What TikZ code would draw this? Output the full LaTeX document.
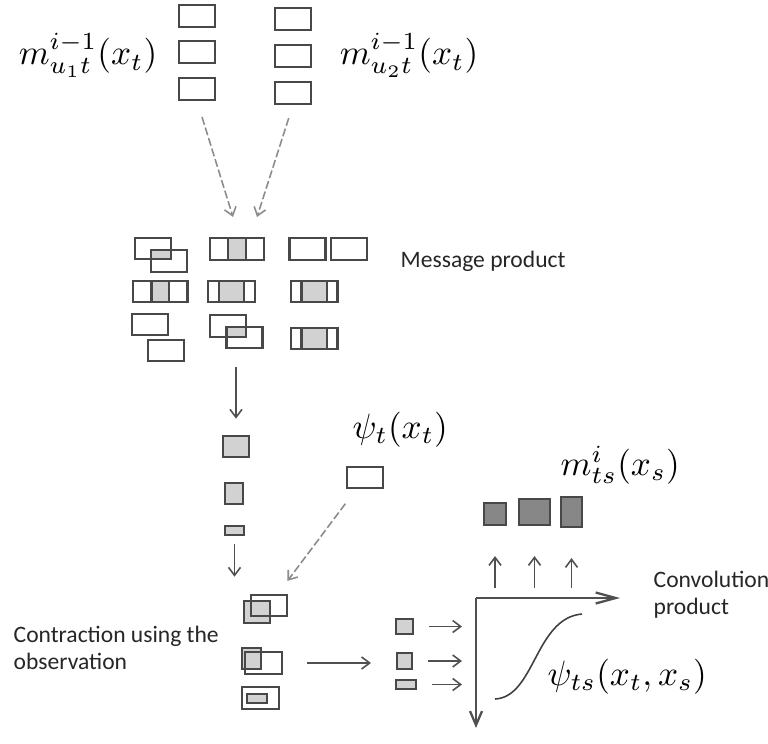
\documentclass[tikz,border=0pt]{standalone}
\usepackage{fontspec}
\newfontfamily\labelfont{Carlito}
\usetikzlibrary{arrows.meta, backgrounds, calc}

\definecolor{boxline}{HTML}{484848}
\definecolor{cellgray}{HTML}{D2D2D2}
\definecolor{darkcell}{HTML}{878787}
\definecolor{arrowline}{HTML}{505050}
\definecolor{dashline}{HTML}{8C8C8C}

\begin{document}
\begin{tikzpicture}[
        x=0.01cm, y=-0.01cm,
        every node/.style={inner sep=0pt},
        cell/.style={
            rectangle, draw=boxline, line width=0.6pt,
            minimum width=0.36cm, minimum height=0.215cm
        },
        gcell/.style={cell, fill=cellgray},
        dcell/.style={cell, fill=darkcell},
        txt/.style={font=\labelfont\fontsize{6.7}{7.6}\selectfont, align=left, text=black!85},
        lbl/.style={anchor=base west},
        arr/.style={-{Straight Barb[length=0.08cm, width=0.12cm]}, line width=0.45pt, draw=arrowline},
        darr/.style={arr, draw=dashline, dash pattern=on 0.08cm off 0.03cm},
        axarr/.style={-{Straight Barb[length=0.2cm, width=0.11cm]}, line width=0.65pt, draw=arrowline},
        axarrv/.style={-{Straight Barb[length=0.14cm, width=0.12cm]}, line width=0.65pt, draw=arrowline},
        curve/.style={line width=0.45pt, draw=black!75}
        ]

    \useasboundingbox (0,0) rectangle (768,743);

    % --- Incoming messages ---
        \node[cell] (a1) at (197,16) {};
        \node[cell] (a2) at (197,52) {};
        \node[cell] (a3) at (197,89) {};
        \node[cell] (b1) at (293,19) {};
        \node[cell] (b2) at (293,56) {};
        \node[cell] (b3) at (293,93) {};

        \node[anchor=base] (mu1) at (88,65) {$m^{i-1}_{u_1t}(x_t)$};
        \node[anchor=base] (mu2) at (409,65) {$m^{i-1}_{u_2t}(x_t)$};

        \coordinate (inL) at (233,217);
        \coordinate (inR) at (257,217);
        \draw[darr, shorten <=0.17cm] (a3.south) -- (inL);
        \draw[darr, shorten <=0.14cm] (b3.south) -- (inR);

    % --- Message product (3x3 pairs) ---
        \node[cell] (p11a) at (153,248.5) {};
        \node[cell] (p11b) at (169,261) {};
        \node[cell] (p12a) at (228,249) {};
        \node[cell] (p12b) at (246,249) {};
        \node[cell] (p13a) at (307.5,249) {};
        \node[cell] (p13b) at (349,249) {};

        \node[cell] (p21a) at (151,291.5) {};
        \node[cell] (p21b) at (169.5,291.5) {};
        \node[cell] (p22a) at (226,291.5) {};
        \node[cell] (p22b) at (237,291.5) {};
        \node[cell] (p23a) at (309,291.5) {};
        \node[cell] (p23b) at (319.5,291.5) {};

        \node[cell] (p31a) at (150,324.5) {};
        \node[cell] (p31b) at (166,350.5) {};
        \node[cell] (p32a) at (228,326) {};
        \node[cell] (p32b) at (244.5,337.5) {};
        \node[cell] (p33a) at (309,338.5) {};
        \node[cell] (p33b) at (319.5,338.5) {};

        % overlaps shaded behind the frames
        \begin{scope}[on background layer]
            \fill[cellgray] (p11b.north west) rectangle (p11a.south east);
            \fill[cellgray] (p12b.north west) rectangle (p12a.south east);
            \fill[cellgray] (p21b.north west) rectangle (p21a.south east);
            \fill[cellgray] (p22b.north west) rectangle (p22a.south east);
            \fill[cellgray] (p23b.north west) rectangle (p23a.south east);
            \fill[cellgray] (p32b.north west) rectangle (p32a.south east);
            \fill[cellgray] (p33b.north west) rectangle (p33a.south east);
        \end{scope}

        \node[txt, anchor=base west] (mprod) at (400,267) {Message product};

    % --- Reduced product ---
        \node[gcell, minimum width=0.26cm] (g1) at (236,446.5) {};
        \node[gcell, minimum width=0.18cm] (g2) at (234,493.5) {};
        \node[gcell, minimum width=0.19cm, minimum height=0.09cm] (g3) at (234.5,530.5) {};

        \draw[arr, shorten <=0.18cm, shorten >=0.16cm] (p32b.south -| g1) -- (g1.north);

    % --- Local evidence ---
        \node[cell] (ps) at (365,477.5) {};
        \node[lbl] (pst) at (352,438) {$\psi_t(x_t)$};

    % --- Contraction with the observation ---
        \node[gcell, minimum width=0.26cm, minimum height=0.22cm] (c1g) at (257,612) {};
        \node[cell] (c1w) at (269,605.5) {};
        \node[gcell, minimum width=0.19cm] (c2g) at (251.5,658.5) {};
        \node[cell, minimum width=0.37cm, minimum height=0.22cm] (c2w) at (263.5,663) {};
        \node[cell, minimum width=0.37cm, minimum height=0.22cm] (c3w) at (260.5,698) {};
        \node[gcell, minimum width=0.2cm, minimum height=0.09cm] (c3g) at (257,698.5) {};

        \draw[arr, shorten <=0.08cm, shorten >=0.17cm] (g3.south) -- (g3.south |- c1w.north);
        \draw[darr, shorten <=0.18cm, shorten >=0.16cm] (ps) -- (c1w);

        \node[txt, anchor=west] (contr) at (13,648) {Contraction using the\\observation};

    % --- Convolution product ---
        \node[gcell, minimum width=0.17cm, minimum height=0.15cm] (s1) at (404.5,626.5) {};
        \node[gcell, minimum width=0.15cm, minimum height=0.16cm] (s2) at (404.5,661) {};
        \node[gcell, minimum width=0.2cm, minimum height=0.09cm] (s3) at (406,684.5) {};

        \draw[arr, shorten <=0.24cm, shorten >=0.25cm] (c2w.east) -- (c2w.east -| s2.west);

        \coordinate (o) at (476,598);
        \coordinate (xend) at (620,598);
        \coordinate (yend) at (476,728);
        \draw[axarr] (o) -- (xend);
        \draw[axarrv] (o) -- (yend);

        \foreach \s in {s1,s2,s3}
            \draw[arr, shorten <=0.15cm, shorten >=0.14cm] (\s.east) -- (\s.east -| o);

        \draw[curve] (495,699) .. controls (535,697) and (535,618) .. (582,614);
        \node[lbl] (psts) at (547,685) {$\psi_{ts}(x_t,x_s)$};

        \node[txt, anchor=west] (conv) at (653,595) {Convolution\\product};

    % --- Outgoing message ---
        \node[dcell, minimum width=0.22cm, minimum height=0.22cm] (d1) at (495,514) {};
        \node[dcell, minimum width=0.31cm, minimum height=0.26cm] (d2) at (534.5,512) {};
        \node[dcell, minimum width=0.21cm, minimum height=0.3cm] (d3) at (571.5,512) {};

        \foreach \d in {d1,d2,d3}
            \draw[arr, shorten <=0.1cm, shorten >=0.3cm] (\d |- o) -- (\d.south);

        \node[lbl] (mts) at (560,475) {$m^i_{ts}(x_s)$};

    \end{tikzpicture}
\end{document}
